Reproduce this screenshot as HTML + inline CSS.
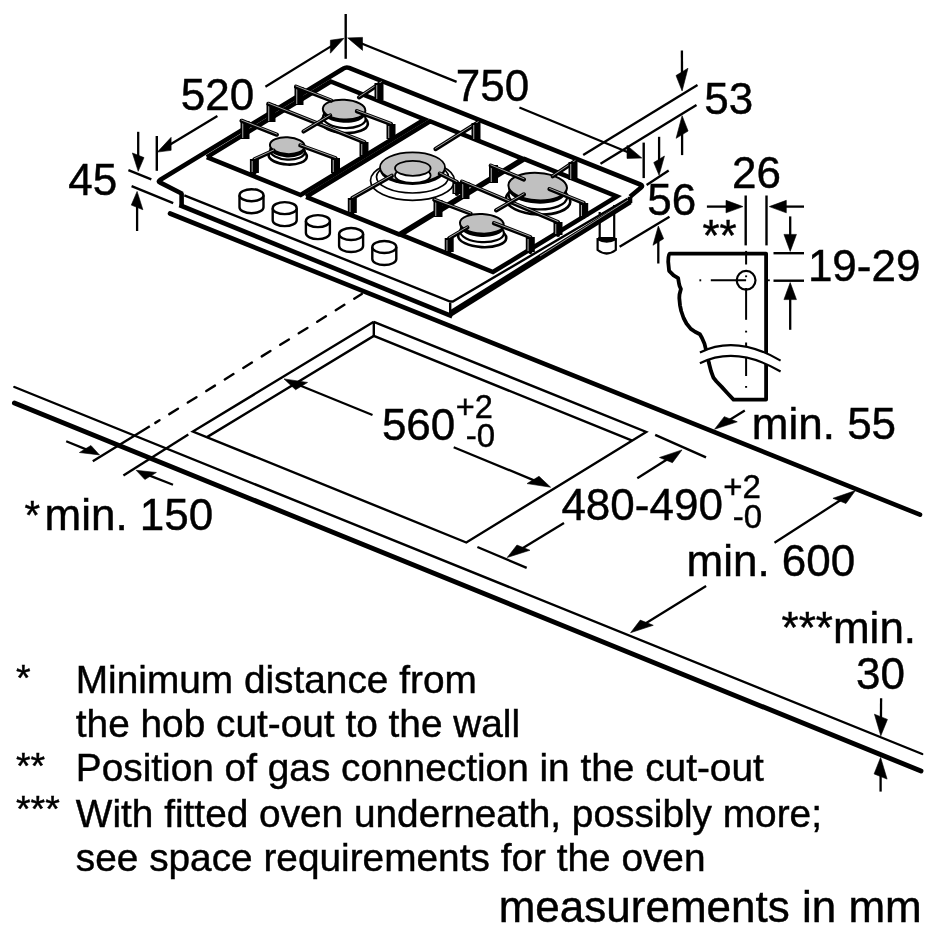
<!DOCTYPE html>
<html><head><meta charset="utf-8">
<style>
html,body{margin:0;padding:0;background:#fff;width:937px;height:937px;overflow:hidden}
svg{display:block;will-change:transform}
text{font-family:"Liberation Sans",sans-serif;fill:#000;stroke:#000;stroke-width:0.45px}
</style></head><body>
<svg width="937" height="937" viewBox="0 0 937 937">
<g stroke="#000" fill="none">
<line x1="14.4" y1="387" x2="922.2" y2="754" stroke-width="2.4" stroke-linecap="round" />
<line x1="14.4" y1="403" x2="921" y2="771" stroke-width="4.9" stroke-linecap="round" />
<line x1="170" y1="213.5" x2="920" y2="514.7" stroke-width="4.6" stroke-linecap="round" />
<polyline points="373.8,321.8 192.9,431.5 466.3,542.5 646.2,432 373.8,321.8" stroke-width="2.4" stroke-linejoin="miter" stroke-linecap="butt" fill="none" />
<polyline points="207,437.1 373.8,335.9 632.2,440.6" stroke-width="2.4" stroke-linejoin="miter" stroke-linecap="butt" fill="none" />
<line x1="373.8" y1="321.8" x2="373.8" y2="335.9" stroke-width="2.4" stroke-linecap="butt" />
<line x1="92.8" y1="461.2" x2="149.8" y2="426.3" stroke-width="2.4" stroke-linecap="butt" />
<line x1="155.3" y1="422.87" x2="159.5" y2="420.24" stroke-width="2.4" stroke-linecap="round" />
<line x1="169.3" y1="414.12" x2="361.8" y2="293.93" stroke-width="2.4" stroke-linecap="round" stroke-dasharray="10.2 11.6"/>
<line x1="123.4" y1="475.4" x2="188.3" y2="434.4" stroke-width="2.4" stroke-linecap="butt" />
<line x1="66.2" y1="441.2" x2="87.94" y2="450.14" stroke-width="2.3" stroke-linecap="butt" />
<polygon points="99.5,454.9 90.93,445.49 79.4,452.52" stroke="#000" stroke-width="0.6" stroke-linejoin="miter" fill="#000"/>
<line x1="173" y1="484.8" x2="147.83" y2="474.88" stroke-width="2.3" stroke-linecap="butt" />
<polygon points="136.2,470.3 156.38,472.47 144.86,479.5" stroke="#000" stroke-width="0.6" stroke-linejoin="miter" fill="#000"/>
<line x1="372.5" y1="415" x2="298.81" y2="384.94" stroke-width="2.3" stroke-linecap="butt" />
<polygon points="284,378.9 307.57,382.43 295.62,389.72" stroke="#000" stroke-width="0.6" stroke-linejoin="miter" fill="#000"/>
<line x1="453.7" y1="447.2" x2="535.81" y2="481.09" stroke-width="2.3" stroke-linecap="butt" />
<polygon points="550.6,487.2 539.01,476.3 527.06,483.6" stroke="#000" stroke-width="0.6" stroke-linejoin="miter" fill="#000"/>
<line x1="655.2" y1="434.9" x2="706" y2="457.4" stroke-width="2.4" stroke-linecap="butt" />
<line x1="477.4" y1="547" x2="526.7" y2="567.9" stroke-width="2.4" stroke-linecap="butt" />
<line x1="637.3" y1="478.3" x2="668.5" y2="458.48" stroke-width="2.3" stroke-linecap="butt" />
<polygon points="682,449.9 672.46,462.69 659.46,457.49" stroke="#000" stroke-width="0.6" stroke-linejoin="miter" fill="#000"/>
<line x1="564" y1="523.1" x2="520.89" y2="549.21" stroke-width="2.3" stroke-linecap="butt" />
<polygon points="507.2,557.5 529.95,550.26 516.95,545.06" stroke="#000" stroke-width="0.6" stroke-linejoin="miter" fill="#000"/>
<line x1="744.8" y1="410.6" x2="728.22" y2="420.81" stroke-width="2.3" stroke-linecap="butt" />
<polygon points="714.6,429.2 737.28,421.84 724.28,416.63" stroke="#000" stroke-width="0.6" stroke-linejoin="miter" fill="#000"/>
<line x1="774.5" y1="542.8" x2="841.96" y2="499.27" stroke-width="2.3" stroke-linecap="butt" />
<polygon points="855.4,490.6 845.93,503.5 832.94,498.3" stroke="#000" stroke-width="0.6" stroke-linejoin="miter" fill="#000"/>
<line x1="706.1" y1="586" x2="644.21" y2="624.28" stroke-width="2.3" stroke-linecap="butt" />
<polygon points="630.6,632.7 653.26,625.31 640.26,620.1" stroke="#000" stroke-width="0.6" stroke-linejoin="miter" fill="#000"/>
<line x1="881.1" y1="698.2" x2="880.93" y2="719.8" stroke-width="2.3" stroke-linecap="butt" />
<polygon points="880.8,735.8 887.45,719.4 874.45,714.2" stroke="#000" stroke-width="0.6" stroke-linejoin="miter" fill="#000"/>
<line x1="880.6" y1="791.6" x2="880.6" y2="773.5" stroke-width="2.3" stroke-linecap="butt" />
<polygon points="880.6,757.5 887.1,779.1 874.1,773.9" stroke="#000" stroke-width="0.6" stroke-linejoin="miter" fill="#000"/>
<line x1="128.4" y1="170.2" x2="151.3" y2="179.4" stroke-width="2.4" stroke-linecap="butt" />
<line x1="131.6" y1="186.2" x2="173.2" y2="203.2" stroke-width="2.4" stroke-linecap="butt" />
<line x1="138.2" y1="131.8" x2="138.2" y2="158.3" stroke-width="2.3" stroke-linecap="butt" />
<polygon points="138.2,171.3 144,157.62 132.4,152.98" stroke="#000" stroke-width="0.6" stroke-linejoin="miter" fill="#000"/>
<line x1="137.1" y1="231" x2="137.1" y2="204.4" stroke-width="2.3" stroke-linecap="butt" />
<polygon points="137.1,191.4 142.9,209.72 131.3,205.08" stroke="#000" stroke-width="0.6" stroke-linejoin="miter" fill="#000"/>
<line x1="156.8" y1="136" x2="156.8" y2="170.8" stroke-width="2.4" stroke-linecap="butt" />
<line x1="217.4" y1="116.1" x2="168.55" y2="145.41" stroke-width="2.3" stroke-linecap="butt" />
<polygon points="157.4,152.1 171.12,150.37 171.12,137.37" stroke="#000" stroke-width="0.6" stroke-linejoin="miter" fill="#000"/>
<line x1="265.4" y1="86.7" x2="332.93" y2="45.12" stroke-width="2.3" stroke-linecap="butt" />
<polygon points="344,38.3 330.38,53.19 330.38,40.19" stroke="#000" stroke-width="0.6" stroke-linejoin="miter" fill="#000"/>
<line x1="345.7" y1="14" x2="345.7" y2="58.8" stroke-width="2.4" stroke-linecap="butt" />
<line x1="456.6" y1="81.9" x2="359.75" y2="42.77" stroke-width="2.3" stroke-linecap="butt" />
<polygon points="347.7,37.9 362.53,50.39 362.53,37.39" stroke="#000" stroke-width="0.6" stroke-linejoin="miter" fill="#000"/>
<line x1="519.4" y1="107.5" x2="629.78" y2="153.04" stroke-width="2.3" stroke-linecap="butt" />
<polygon points="641.8,158 627.01,158.4 627.01,145.4" stroke="#000" stroke-width="0.6" stroke-linejoin="miter" fill="#000"/>
<line x1="643.7" y1="142.6" x2="643.7" y2="178.1" stroke-width="2.4" stroke-linecap="butt" />
<line x1="583.2" y1="155.1" x2="697.5" y2="85" stroke-width="2.4" stroke-linecap="butt" />
<line x1="600.5" y1="163.7" x2="696.5" y2="105.1" stroke-width="2.4" stroke-linecap="butt" />
<line x1="681.9" y1="50.6" x2="682.02" y2="74.9" stroke-width="2.3" stroke-linecap="butt" />
<polygon points="682.1,90.9 687.98,68.25 676.03,75.55" stroke="#000" stroke-width="0.6" stroke-linejoin="miter" fill="#000"/>
<line x1="682.1" y1="155.1" x2="682.1" y2="131.7" stroke-width="2.3" stroke-linecap="butt" />
<polygon points="682.1,115.7 688.08,131.05 676.12,138.35" stroke="#000" stroke-width="0.6" stroke-linejoin="miter" fill="#000"/>
<line x1="646.6" y1="184.9" x2="668.7" y2="170.4" stroke-width="2.4" stroke-linecap="butt" />
<line x1="619.6" y1="246.8" x2="669.5" y2="216.8" stroke-width="2.4" stroke-linecap="butt" />
<line x1="659.1" y1="136.8" x2="659.1" y2="162.3" stroke-width="2.3" stroke-linecap="butt" />
<polygon points="659.1,175.3 664.44,156.04 653.76,162.56" stroke="#000" stroke-width="0.6" stroke-linejoin="miter" fill="#000"/>
<line x1="658.3" y1="263.5" x2="658.3" y2="239" stroke-width="2.3" stroke-linecap="butt" />
<polygon points="658.3,226 663.64,238.74 652.96,245.26" stroke="#000" stroke-width="0.6" stroke-linejoin="miter" fill="#000"/>
<line x1="745.7" y1="195.5" x2="745.7" y2="245.4" stroke-width="2.4" stroke-linecap="butt" />
<line x1="766.5" y1="195.5" x2="766.5" y2="245.4" stroke-width="2.4" stroke-linecap="butt" />
<line x1="706.9" y1="206.6" x2="729" y2="206.6" stroke-width="2.3" stroke-linecap="butt" />
<polygon points="743,206.6 726,212.85 726,200.35" stroke="#000" stroke-width="0.6" stroke-linejoin="miter" fill="#000"/>
<line x1="804" y1="206.6" x2="783.3" y2="206.6" stroke-width="2.3" stroke-linecap="butt" />
<polygon points="769.3,206.6 786.3,212.85 786.3,200.35" stroke="#000" stroke-width="0.6" stroke-linejoin="miter" fill="#000"/>
<line x1="773.5" y1="253.2" x2="804" y2="253.2" stroke-width="2.4" stroke-linecap="butt" />
<line x1="773.5" y1="280.7" x2="804" y2="280.7" stroke-width="2.4" stroke-linecap="butt" />
<line x1="790.2" y1="216.4" x2="790.2" y2="237.4" stroke-width="2.3" stroke-linecap="butt" />
<polygon points="790.2,251.4 796.45,234.4 783.95,234.4" stroke="#000" stroke-width="0.6" stroke-linejoin="miter" fill="#000"/>
<line x1="790.2" y1="329.8" x2="790.2" y2="296.6" stroke-width="2.3" stroke-linecap="butt" />
<polygon points="790.2,282.6 796.45,299.6 783.95,299.6" stroke="#000" stroke-width="0.6" stroke-linejoin="miter" fill="#000"/>
<path d="M670,253.6 L766.1,253.6 L766.1,399.6 L733.5,399.6 L727.5,393.2 L721.7,386.9 L716.5,381.5 L713.5,377.8 L711,371 L709,363.3 L706.2,350.6 L704.4,343.4 L702,338 L699.9,334.3 L695,331.8 L690.8,328.9 L686.5,323.5 L683.6,318 L681.2,311 L680,305.3 L679.3,298 L679.5,294.4 L680.9,289 L679.6,286 L679,283.5 L678.1,278.1 L673.6,275.4 L669.1,270.8 L668.2,261.8 Q668.2,253.6 670,253.6 Z" stroke-width="3.8" fill="none" stroke-linejoin="round"/>
<line x1="746.1" y1="250.9" x2="746.1" y2="264.5" stroke-width="2.0" stroke-linecap="butt" />
<line x1="746.1" y1="288" x2="746.1" y2="319.8" stroke-width="2.0" stroke-linecap="butt" />
<line x1="746.1" y1="342.5" x2="746.1" y2="376" stroke-width="2.0" stroke-linecap="butt" />
<line x1="746.1" y1="275.4" x2="746.1" y2="277.2" stroke-width="2.0" stroke-linecap="butt" />
<line x1="746.1" y1="330.7" x2="746.1" y2="332.5" stroke-width="2.0" stroke-linecap="butt" />
<line x1="746.1" y1="386" x2="746.1" y2="387.8" stroke-width="2.0" stroke-linecap="butt" />
<line x1="699.4" y1="280.3" x2="701.2" y2="280.3" stroke-width="2.0" stroke-linecap="butt" />
<line x1="710.8" y1="280.3" x2="746.1" y2="280.3" stroke-width="2.0" stroke-linecap="butt" />
<line x1="768.8" y1="279.4" x2="768.8" y2="281.2" stroke-width="2.0" stroke-linecap="butt" />
<circle cx="746.1" cy="280.3" r="9.4" stroke-width="2.2"/>
<path d="M699.9,352.4 Q736.2,334.4 780.6,360.6 L780.6,371.5 Q736.2,345.3 699.9,363.3 Z" fill="#fff" stroke="none"/>
<path d="M699.9,352.4 Q736.2,334.4 780.6,360.6" stroke-width="2.2" fill="none" />
<path d="M699.9,363.3 Q736.2,345.3 780.6,371.5" stroke-width="2.2" fill="none" />
<path d="M599.7,212 L599.7,238 L614.2,238 L614.2,205" stroke-width="2.2" fill="#fff"/>
<path d="M597.6,239 L597.6,250 Q606.7,257 615.8,250 L615.8,239 Z" stroke-width="2.2" fill="#fff"/>
<path d="M597.6,238.6 Q606.7,243.5 615.8,238.6" stroke-width="3.4" fill="none"/>
<polygon points="181.6,193.1 181.6,205.9 450.2,315.6 630,203 630,196.8 452.8,301.5" fill="#fff" stroke="none"/>
<polyline points="184.3,195.3 450.2,301.5 452.8,301.5 627.6,198.8" stroke-width="2.4" stroke-linejoin="miter" stroke-linecap="butt" fill="none" />
<line x1="181.6" y1="193.1" x2="181.6" y2="205.9" stroke-width="4.6" stroke-linecap="butt" />
<line x1="450.2" y1="302.8" x2="450.2" y2="315.6" stroke-width="2.4" stroke-linecap="butt" />
<line x1="630" y1="196.8" x2="630" y2="203" stroke-width="4.6" stroke-linecap="butt" />
<polyline points="181.6,205.9 450.2,315.6" stroke-width="4.6" stroke-linejoin="miter" stroke-linecap="square" fill="none" />
<line x1="450.8" y1="313.3" x2="630" y2="201.3" stroke-width="6.2" stroke-linecap="butt" />
<line x1="540" y1="256" x2="628" y2="200.1" stroke-width="0.6" stroke-linecap="butt" stroke="#fff"/>
<path d="M182.6,194 L159.8,182.4 Q157.8,181.6 160,180 L343.1,68.7 Q346.1,66.7 349.1,67.9 L640.3,184.5 Q643.3,185.7 641.1,187.5 L630,196.8" stroke-width="4.6" fill="none" stroke-linejoin="round"/>
<polyline points="206.84,157.09 300.67,195.04 424.57,119.43 330.74,81.48 206.84,157.09" stroke-width="4.6" stroke-linejoin="miter" stroke-linecap="butt" fill="none" />
<polyline points="306.1,196.83 399.04,234.43 522.95,158.82 430,121.23 306.1,196.83" stroke-width="4.6" stroke-linejoin="miter" stroke-linecap="butt" fill="none" />
<polyline points="400.61,234.67 492.96,272.03 616.86,196.43 524.51,159.07 400.61,234.67" stroke-width="4.6" stroke-linejoin="miter" stroke-linecap="butt" fill="none" />
<path d="M239.5,195.2 L239.5,207.2 A12,6 0 0 0 263.5,207.2 L263.5,195.2" stroke-width="2.4" fill="#fff"/>
<ellipse cx="251.5" cy="195.2" rx="12" ry="6" stroke-width="2.4" fill="#fff"/>
<path d="M272.7,208.15 L272.7,220.15 A12,6 0 0 0 296.7,220.15 L296.7,208.15" stroke-width="2.4" fill="#fff"/>
<ellipse cx="284.7" cy="208.15" rx="12" ry="6" stroke-width="2.4" fill="#fff"/>
<path d="M305.9,221.1 L305.9,233.1 A12,6 0 0 0 329.9,233.1 L329.9,221.1" stroke-width="2.4" fill="#fff"/>
<ellipse cx="317.9" cy="221.1" rx="12" ry="6" stroke-width="2.4" fill="#fff"/>
<path d="M339.1,234.05 L339.1,246.05 A12,6 0 0 0 363.1,246.05 L363.1,234.05" stroke-width="2.4" fill="#fff"/>
<ellipse cx="351.1" cy="234.05" rx="12" ry="6" stroke-width="2.4" fill="#fff"/>
<path d="M372.3,247 L372.3,259 A12,6 0 0 0 396.3,259 L396.3,247" stroke-width="2.4" fill="#fff"/>
<ellipse cx="384.3" cy="247" rx="12" ry="6" stroke-width="2.4" fill="#fff"/>
<ellipse cx="344.5" cy="122.6" rx="23.43" ry="10.4" stroke-width="2.6" fill="#fff" transform="rotate(3 344.1 122.6)"/>
<ellipse cx="344.1" cy="118.1" rx="21.3" ry="9.9" stroke-width="2.2" fill="#fff" transform="rotate(3 344.1 122.6)"/>
<ellipse cx="344.1" cy="112.9" rx="21.3" ry="9.9" stroke="none" fill="#000" transform="rotate(3 344.1 109.6)"/>
<ellipse cx="344.1" cy="109.6" rx="21.3" ry="9.9" stroke-width="2" fill="#c0c0c0" transform="rotate(3 344.1 109.6)"/>
<ellipse cx="287.7" cy="155.7" rx="19.14" ry="8.82" stroke-width="2.6" fill="#fff" transform="rotate(3 287.3 155.7)"/>
<ellipse cx="287.3" cy="151.2" rx="17.4" ry="8.4" stroke-width="2.2" fill="#fff" transform="rotate(3 287.3 155.7)"/>
<ellipse cx="287.3" cy="149" rx="17.4" ry="8.4" stroke="none" fill="#000" transform="rotate(3 287.3 145.7)"/>
<ellipse cx="287.3" cy="145.7" rx="17.4" ry="8.4" stroke-width="2" fill="#c0c0c0" transform="rotate(3 287.3 145.7)"/>
<ellipse cx="538.1" cy="200.1" rx="32.23" ry="14.38" stroke-width="2.6" fill="#fff" transform="rotate(3 537.7 200.1)"/>
<ellipse cx="537.7" cy="195.6" rx="29.3" ry="13.7" stroke-width="2.2" fill="#fff" transform="rotate(3 537.7 200.1)"/>
<ellipse cx="537.7" cy="189.9" rx="29.3" ry="13.7" stroke="none" fill="#000" transform="rotate(3 537.7 186.6)"/>
<ellipse cx="537.7" cy="186.6" rx="29.3" ry="13.7" stroke-width="2" fill="#c0c0c0" transform="rotate(3 537.7 186.6)"/>
<ellipse cx="482.2" cy="236.8" rx="24.09" ry="10.29" stroke-width="2.6" fill="#fff" transform="rotate(3 481.8 236.8)"/>
<ellipse cx="481.8" cy="232.3" rx="21.9" ry="9.8" stroke-width="2.2" fill="#fff" transform="rotate(3 481.8 236.8)"/>
<ellipse cx="481.8" cy="227.1" rx="21.9" ry="9.8" stroke="none" fill="#000" transform="rotate(3 481.8 223.8)"/>
<ellipse cx="481.8" cy="223.8" rx="21.9" ry="9.8" stroke-width="2" fill="#c0c0c0" transform="rotate(3 481.8 223.8)"/>
<ellipse cx="412.5" cy="180.5" rx="42" ry="19.8" stroke-width="1.7" fill="#fff"/>
<ellipse cx="412.5" cy="177" rx="36" ry="16" stroke-width="1.7" fill="#fff"/>
<ellipse cx="412.5" cy="170" rx="32.5" ry="15" stroke="none" fill="#000"/>
<ellipse cx="412.5" cy="167.3" rx="32.5" ry="15" stroke-width="1.8" fill="#c0c0c0"/>
<ellipse cx="412.8" cy="175.5" rx="17.8" ry="7.5" stroke-width="1.8" fill="#fff"/>
<ellipse cx="412.8" cy="168.3" rx="17.8" ry="7.5" stroke-width="1.8" fill="#c0c0c0"/>
<rect x="240.5" y="121" width="9" height="18" fill="#000" stroke="none"/>
<line x1="242.75" y1="123" x2="242.75" y2="138" stroke="#fff" stroke-width="0.7"/>
<polyline points="241.6,120.8 276.8,134.7" stroke-width="4.2" stroke-linejoin="round" stroke-linecap="round" fill="none" />
<polyline points="241.6,120.1 276.8,134" stroke="#fff" stroke-width="0.65" fill="none" stroke-linecap="round"/>
<rect x="266.5" y="104" width="9" height="18" fill="#000" stroke="none"/>
<line x1="268.75" y1="106" x2="268.75" y2="121" stroke="#fff" stroke-width="0.7"/>
<polyline points="268.3,103.8 364.4,142.2 364.4,156" stroke-width="4.2" stroke-linejoin="round" stroke-linecap="round" fill="none" />
<polyline points="268.3,103.1 364.4,141.5" stroke="#fff" stroke-width="0.65" fill="none" stroke-linecap="round"/>
<rect x="359.5" y="142" width="9" height="14" fill="#000" stroke="none"/>
<line x1="361.75" y1="144" x2="361.75" y2="155" stroke="#fff" stroke-width="0.7"/>
<rect x="294.5" y="87" width="9" height="18" fill="#000" stroke="none"/>
<line x1="296.75" y1="89" x2="296.75" y2="104" stroke="#fff" stroke-width="0.7"/>
<polyline points="296,86.7 331.3,100.6" stroke-width="4.2" stroke-linejoin="round" stroke-linecap="round" fill="none" />
<polyline points="296,86 331.3,99.9" stroke="#fff" stroke-width="0.65" fill="none" stroke-linecap="round"/>
<polyline points="303.5,131.5 330.2,115.5" stroke-width="4.2" stroke-linejoin="round" stroke-linecap="round" fill="none" />
<polyline points="303.5,130.8 330.2,114.8" stroke="#fff" stroke-width="0.65" fill="none" stroke-linecap="round"/>
<polyline points="356.9,111.2 391,124 391,139" stroke-width="4.2" stroke-linejoin="round" stroke-linecap="round" fill="none" />
<polyline points="356.9,110.5 391,123.3" stroke="#fff" stroke-width="0.65" fill="none" stroke-linecap="round"/>
<rect x="386.5" y="124" width="9" height="15" fill="#000" stroke="none"/>
<line x1="388.75" y1="126" x2="388.75" y2="138" stroke="#fff" stroke-width="0.7"/>
<polyline points="359,97.4 381.4,82.4" stroke-width="4.2" stroke-linejoin="round" stroke-linecap="round" fill="none" />
<polyline points="359,96.7 381.4,81.7" stroke="#fff" stroke-width="0.65" fill="none" stroke-linecap="round"/>
<rect x="374.5" y="83" width="9" height="17" fill="#000" stroke="none"/>
<line x1="376.75" y1="85" x2="376.75" y2="99" stroke="#fff" stroke-width="0.7"/>
<polyline points="300.3,145.4 335.5,158.2 335.5,173.1" stroke-width="4.2" stroke-linejoin="round" stroke-linecap="round" fill="none" />
<polyline points="300.3,144.7 335.5,157.5" stroke="#fff" stroke-width="0.65" fill="none" stroke-linecap="round"/>
<rect x="331" y="158" width="9" height="15" fill="#000" stroke="none"/>
<line x1="333.25" y1="160" x2="333.25" y2="172" stroke="#fff" stroke-width="0.7"/>
<polyline points="273.6,150.7 254.4,159.3 254.4,173.1" stroke-width="4.2" stroke-linejoin="round" stroke-linecap="round" fill="none" />
<polyline points="273.6,150 254.4,158.6" stroke="#fff" stroke-width="0.65" fill="none" stroke-linecap="round"/>
<rect x="249.9" y="159" width="9" height="14" fill="#000" stroke="none"/>
<line x1="252.15" y1="161" x2="252.15" y2="172" stroke="#fff" stroke-width="0.7"/>
<polyline points="391.8,175.8 352.3,198.2 352.3,213.1" stroke-width="4.2" stroke-linejoin="round" stroke-linecap="round" fill="none" />
<polyline points="391.8,175.1 352.3,197.5" stroke="#fff" stroke-width="0.65" fill="none" stroke-linecap="round"/>
<rect x="347.8" y="198" width="9" height="15" fill="#000" stroke="none"/>
<line x1="350.05" y1="200" x2="350.05" y2="212" stroke="#fff" stroke-width="0.7"/>
<polyline points="439.8,173.6 456.9,182.2 456.9,194" stroke-width="4.2" stroke-linejoin="round" stroke-linecap="round" fill="none" />
<polyline points="439.8,172.9 456.9,181.5" stroke="#fff" stroke-width="0.65" fill="none" stroke-linecap="round"/>
<rect x="452.4" y="182" width="9" height="12" fill="#000" stroke="none"/>
<line x1="454.65" y1="184" x2="454.65" y2="193" stroke="#fff" stroke-width="0.7"/>
<polyline points="435.5,149.1 478.2,122.4" stroke-width="4.2" stroke-linejoin="round" stroke-linecap="round" fill="none" />
<polyline points="435.5,148.4 478.2,121.7" stroke="#fff" stroke-width="0.65" fill="none" stroke-linecap="round"/>
<rect x="471.5" y="123" width="9" height="17" fill="#000" stroke="none"/>
<line x1="473.75" y1="125" x2="473.75" y2="139" stroke="#fff" stroke-width="0.7"/>
<rect x="489" y="165" width="9" height="18" fill="#000" stroke="none"/>
<line x1="491.25" y1="167" x2="491.25" y2="182" stroke="#fff" stroke-width="0.7"/>
<polyline points="490.8,165.6 523.9,179.5" stroke-width="4.2" stroke-linejoin="round" stroke-linecap="round" fill="none" />
<polyline points="490.8,164.9 523.9,178.8" stroke="#fff" stroke-width="0.65" fill="none" stroke-linecap="round"/>
<rect x="460.5" y="182" width="9" height="17" fill="#000" stroke="none"/>
<line x1="462.75" y1="184" x2="462.75" y2="198" stroke="#fff" stroke-width="0.7"/>
<polyline points="462,181.6 558,222.2 558,235" stroke-width="4.2" stroke-linejoin="round" stroke-linecap="round" fill="none" />
<polyline points="462,180.9 558,221.5" stroke="#fff" stroke-width="0.65" fill="none" stroke-linecap="round"/>
<rect x="553.5" y="222" width="9" height="13" fill="#000" stroke="none"/>
<line x1="555.75" y1="224" x2="555.75" y2="234" stroke="#fff" stroke-width="0.7"/>
<polyline points="496.2,210.4 523.9,194.4" stroke-width="4.2" stroke-linejoin="round" stroke-linecap="round" fill="none" />
<polyline points="496.2,209.7 523.9,193.7" stroke="#fff" stroke-width="0.65" fill="none" stroke-linecap="round"/>
<polyline points="549.5,189.1 583.7,203 583.7,216.8" stroke-width="4.2" stroke-linejoin="round" stroke-linecap="round" fill="none" />
<polyline points="549.5,188.4 583.7,202.3" stroke="#fff" stroke-width="0.65" fill="none" stroke-linecap="round"/>
<rect x="579.2" y="203" width="9" height="14" fill="#000" stroke="none"/>
<line x1="581.45" y1="205" x2="581.45" y2="216" stroke="#fff" stroke-width="0.7"/>
<polyline points="552.7,176.3 575.1,161.3" stroke-width="4.2" stroke-linejoin="round" stroke-linecap="round" fill="none" />
<polyline points="552.7,175.6 575.1,160.6" stroke="#fff" stroke-width="0.65" fill="none" stroke-linecap="round"/>
<rect x="568.5" y="162" width="9" height="18" fill="#000" stroke="none"/>
<line x1="570.75" y1="164" x2="570.75" y2="179" stroke="#fff" stroke-width="0.7"/>
<rect x="433.5" y="200" width="9" height="17" fill="#000" stroke="none"/>
<line x1="435.75" y1="202" x2="435.75" y2="216" stroke="#fff" stroke-width="0.7"/>
<polyline points="434.3,199.8 470.6,213.6" stroke-width="4.2" stroke-linejoin="round" stroke-linecap="round" fill="none" />
<polyline points="434.3,199.1 470.6,212.9" stroke="#fff" stroke-width="0.65" fill="none" stroke-linecap="round"/>
<polyline points="494,223.2 530.3,237.1 530.3,252.1" stroke-width="4.2" stroke-linejoin="round" stroke-linecap="round" fill="none" />
<polyline points="494,222.5 530.3,236.4" stroke="#fff" stroke-width="0.65" fill="none" stroke-linecap="round"/>
<rect x="525.8" y="237" width="9" height="15" fill="#000" stroke="none"/>
<line x1="528.05" y1="239" x2="528.05" y2="251" stroke="#fff" stroke-width="0.7"/>
<polyline points="467.4,227.5 449.2,238.2 449.2,252.1" stroke-width="4.2" stroke-linejoin="round" stroke-linecap="round" fill="none" />
<polyline points="467.4,226.8 449.2,237.5" stroke="#fff" stroke-width="0.65" fill="none" stroke-linecap="round"/>
<rect x="444.7" y="238" width="9" height="14" fill="#000" stroke="none"/>
<line x1="446.95" y1="240" x2="446.95" y2="251" stroke="#fff" stroke-width="0.7"/>
</g>
<g id="texts" font-size="44">
<text x="180.7" y="109.7">520</text>
<text x="455.7" y="100.9">750</text>
<text x="704.2" y="113.8">53</text>
<text x="68.2" y="195.4">45</text>
<text x="647.2" y="215.1">56</text>
<text x="732.1" y="187.9">26</text>
<text x="807.9" y="280.5">19-29</text>
<text x="381.9" y="440.3">560</text>
<text x="455.8" y="417.7" font-size="32.5">+2</text>
<text x="465.8" y="447.2" font-size="33">-0</text>
<text x="751.8" y="439.1">min. 55</text>
<text x="44.5" y="530.4">min. 150</text>
<text x="24.5" y="528.9" font-size="40">*</text>
<text x="702.4" y="250.5">**</text>
<text x="561.4" y="520.0">480-490</text>
<text x="723.2" y="498.4" font-size="33">+2</text>
<text x="732.8" y="527.6" font-size="33">-0</text>
<text x="686.5" y="575.7">min. 600</text>
<text x="781.6" y="643.0">***min.</text>
<text x="856" y="688.9">30</text>
<text x="498.7" y="921.7">measurements in mm</text>
</g>
<g id="notes" font-size="38.8">
<text x="75.8" y="692.7">Minimum distance from</text>
<text x="75.8" y="736.8">the hob cut-out to the wall</text>
<text x="75.8" y="780.9">Position of gas connection in the cut-out</text>
<text x="75.8" y="827.4">With fitted oven underneath, possibly more;</text>
<text x="75.8" y="871.1">see space requirements for the oven</text>
<text x="16" y="690.5" font-size="37.5">*</text>
<text x="16" y="778.8" font-size="37.5">**</text>
<text x="16" y="822.3" font-size="37.5">***</text>
</g>
</svg>
</body></html>
